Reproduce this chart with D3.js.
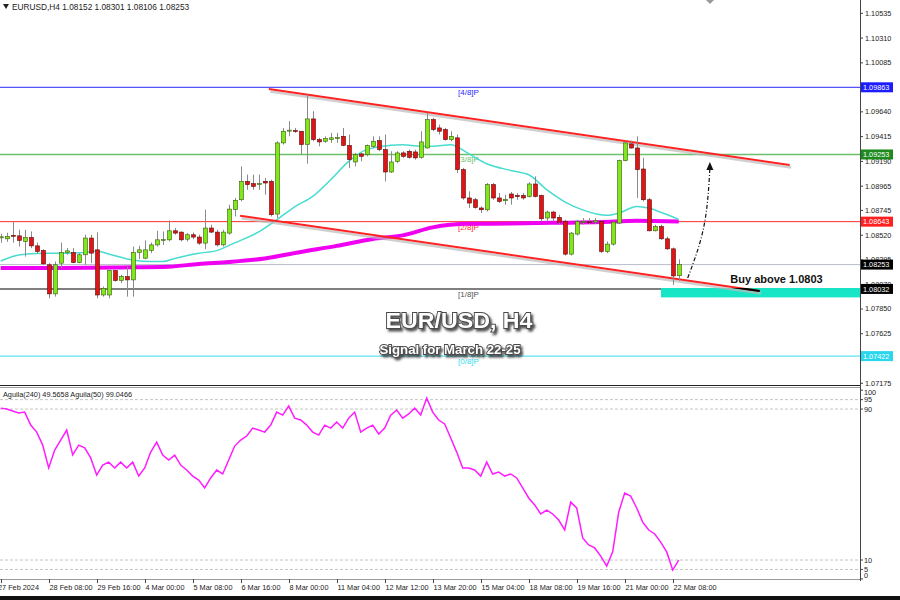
<!DOCTYPE html>
<html><head><meta charset="utf-8">
<script src="https://cdn.jsdelivr.net/npm/d3@7"></script>
<style>body{margin:0;background:#fff}svg{display:block}text{font-family:"Liberation Sans",Arial,sans-serif}</style>
</head><body><svg id="c" width="900" height="600"></svg>
<script>
// ---- DATA ----
const opens=[1.08496,1.08487,1.08519,1.08514,1.08463,1.08499,1.08423,1.08381,1.08251,1.07987,1.08266,1.08362,1.08362,1.08271,1.08342,1.08494,1.08387,1.07977,1.07977,1.08199,1.08108,1.08144,1.08114,1.08362,1.08311,1.08381,1.08432,1.08478,1.08478,1.08560,1.08548,1.08484,1.08524,1.08503,1.08448,1.08585,1.08548,1.08432,1.08539,1.08752,1.08842,1.09009,1.08988,1.08985,1.09009,1.09009,1.08712,1.09358,1.09470,1.09470,1.09464,1.09343,1.09576,1.09388,1.09373,1.09388,1.09404,1.09418,1.09336,1.09185,1.09258,1.09252,1.09327,1.09379,1.09297,1.09094,1.09191,1.09267,1.09282,1.09276,1.09227,1.09312,1.09570,1.09494,1.09479,1.09388,1.09404,1.09115,1.08858,1.08842,1.08767,1.08751,1.08979,1.08858,1.08833,1.08894,1.08881,1.08881,1.08870,1.08985,1.08881,1.08676,1.08730,1.08681,1.08645,1.08348,1.08530,1.08639,1.08642,1.08639,1.08645,1.08372,1.08439,1.08630,1.09197,1.09349,1.09312,1.09121,1.08842,1.08560,1.08599,1.08487,1.08396,1.08152];
const highs=[1.08533,1.08542,1.08645,1.08569,1.08569,1.08554,1.08453,1.08393,1.08266,1.08281,1.08453,1.08403,1.08403,1.08357,1.08524,1.08524,1.08545,1.08053,1.08205,1.08205,1.08160,1.08235,1.08417,1.08423,1.08472,1.08453,1.08560,1.08554,1.08654,1.08585,1.08554,1.08539,1.08545,1.08524,1.08752,1.08615,1.08569,1.08569,1.08797,1.08858,1.09145,1.09070,1.09070,1.09070,1.09039,1.09024,1.09373,1.09494,1.09555,1.09494,1.09464,1.09798,1.09646,1.09404,1.09418,1.09449,1.09449,1.09494,1.09434,1.09267,1.09267,1.09343,1.09418,1.09418,1.09434,1.09282,1.09282,1.09282,1.09297,1.09297,1.09464,1.09631,1.09586,1.09524,1.09494,1.09464,1.09434,1.09131,1.08918,1.08858,1.08781,1.08994,1.08994,1.08903,1.08888,1.08912,1.08903,1.08903,1.09000,1.09054,1.08888,1.08742,1.08742,1.08706,1.08660,1.08548,1.08660,1.08676,1.08676,1.08676,1.08660,1.08463,1.08645,1.09206,1.09373,1.09379,1.09418,1.09222,1.08858,1.08615,1.08615,1.08508,1.08408,1.08301];
const lows=[1.08451,1.08460,1.08451,1.08417,1.08326,1.08402,1.08351,1.08251,1.07947,1.07962,1.08220,1.08342,1.08266,1.08266,1.08251,1.08266,1.07947,1.07962,1.07947,1.08099,1.08084,1.07962,1.07962,1.08302,1.08302,1.08357,1.08417,1.08432,1.08463,1.08524,1.08463,1.08463,1.08484,1.08432,1.08393,1.08539,1.08417,1.08417,1.08524,1.08690,1.08827,1.08933,1.08933,1.08933,1.08888,1.08690,1.08676,1.09343,1.09418,1.09449,1.09252,1.09170,1.09373,1.09327,1.09358,1.09358,1.09358,1.09327,1.09131,1.09145,1.09191,1.09236,1.09312,1.09282,1.09009,1.09085,1.09176,1.09222,1.09215,1.09206,1.09215,1.09306,1.09464,1.09434,1.09379,1.09373,1.09085,1.08842,1.08767,1.08760,1.08721,1.08736,1.08842,1.08812,1.08797,1.08797,1.08842,1.08842,1.08863,1.08863,1.08645,1.08645,1.08645,1.08621,1.08335,1.08335,1.08517,1.08615,1.08621,1.08621,1.08357,1.08357,1.08426,1.08621,1.09191,1.09306,1.08858,1.08827,1.08554,1.08554,1.08478,1.08387,1.08068,1.08106];
const closes=[1.08505,1.08510,1.08514,1.08472,1.08499,1.08423,1.08372,1.08260,1.07987,1.08251,1.08362,1.08378,1.08271,1.08342,1.08494,1.08357,1.07977,1.08038,1.08199,1.08108,1.08144,1.08114,1.08362,1.08387,1.08387,1.08432,1.08478,1.08481,1.08560,1.08539,1.08478,1.08524,1.08503,1.08448,1.08585,1.08548,1.08432,1.08548,1.08757,1.08837,1.09009,1.08979,1.08963,1.08988,1.08994,1.08706,1.09358,1.09464,1.09474,1.09465,1.09343,1.09576,1.09388,1.09367,1.09397,1.09404,1.09406,1.09336,1.09206,1.09252,1.09236,1.09333,1.09373,1.09297,1.09094,1.09185,1.09267,1.09236,1.09227,1.09222,1.09367,1.09570,1.09479,1.09464,1.09388,1.09418,1.09115,1.08858,1.08812,1.08772,1.08751,1.08979,1.08858,1.08827,1.08845,1.08858,1.08870,1.08858,1.08985,1.08872,1.08669,1.08730,1.08676,1.08639,1.08348,1.08539,1.08645,1.08645,1.08639,1.08651,1.08372,1.08439,1.08639,1.09197,1.09358,1.09312,1.09115,1.08842,1.08560,1.08599,1.08487,1.08396,1.08150,1.08253];

const fastMaIdx=[0,3,6,10,14,16,18,22,25,27,29,33,36,39,43,46,49,52,55,58,61,65,67,70,72,75,78,81,85,88,91,94,97,101,103,106,108,110,113];
const fastMaVal=[1.08286,1.08341,1.08354,1.08356,1.08363,1.08377,1.08350,1.08295,1.08280,1.08280,1.08309,1.08356,1.08380,1.08450,1.08550,1.08659,1.08778,1.08872,1.09024,1.09190,1.09297,1.09336,1.09342,1.09327,1.09327,1.09342,1.09260,1.09169,1.09108,1.09069,1.08933,1.08823,1.08750,1.08700,1.08720,1.08781,1.08766,1.08728,1.08664];
const slowMaIdx=[0,10,20,28,33,38,44,50,56,62,67,72,78,85,92,100,106,113];
const slowMaVal=[1.08222,1.08222,1.08227,1.08234,1.08259,1.08277,1.08309,1.08368,1.08423,1.08486,1.08518,1.08591,1.08623,1.08626,1.08632,1.08639,1.08650,1.08644];

const aguila=[90.5,90.0,89.0,87.9,88.4,81.5,77.8,70.9,58.8,68.3,73.6,78.9,65.7,70.9,69.4,64.1,55.0,60.3,61.9,58.8,61.9,58.8,61.9,54.5,58.8,67.2,72.5,65.6,63.0,65.6,60.3,57.7,54.5,52.4,48.2,53.5,57.7,55.6,63.0,70.4,73.6,75.7,79.9,78.9,77.8,81.5,88.4,86.8,91.6,85.2,84.2,81.5,77.8,76.2,81.5,79.9,83.1,79.9,85.2,88.4,77.8,79.9,81.5,76.8,79.9,86.8,89.5,85.2,87.4,90.5,86.8,95.8,88.4,84.2,82.1,74.7,67.2,58.8,58.8,57.7,54.5,61.9,55.6,56.6,54.5,55.6,53.5,48.2,42.9,39.2,34.4,36.5,34.4,31.2,25.9,40.7,37.6,21.7,18.0,16.4,12.1,6.8,14.3,35.4,45.5,43.9,37.6,30.1,25.9,23.8,19.5,14.3,4.7,10.0];

const priceTicks=[1.10535,1.10310,1.10085,1.09640,1.09415,1.09190,1.08965,1.08745,1.08520,1.08295,1.08070,1.07850,1.07625,1.07400,1.07175];
const levelNames=["[4/8]P","[3/8]P","[2/8]P","[1/8]P","[0/8]P"];
const levelPrices=[1.09863,1.09253,1.08643,1.08032,1.07422];
const levelColors=["#2a2aff","#6cbf6c","#ff2a2a","#555555","#33dcee"];
const levelBoxColors=["#1c1cff","#1e8a1e","#ff2020","#000000","#2ad6ee"];
const currentPrice=1.08253;
const timeTickIdx=[0,8,16,24,32,40,48,56,64,72,80,88,96,104,112];
const timeTickLabels=["27 Feb 2024","28 Feb 08:00","29 Feb 16:00","4 Mar 00:00","5 Mar 08:00","6 Mar 16:00","8 Mar 00:00","11 Mar 04:00","12 Mar 12:00","13 Mar 20:00","15 Mar 04:00","18 Mar 08:00","19 Mar 16:00","21 Mar 00:00","22 Mar 08:00"];
const indTicks=[100,95,90,10,5,0];
const indDashed=[95,90,10,5];
const upperChannel=[[44.7,1.09848],[131.5,1.09157]];
const lowerChannel=[[39.9,1.08697],[126.5,1.08013]];
const arrowPath=[[114.5,1.08131],[117.2,1.08600],[118.2,1.09130]];
const buyZone={i0:110.05,top:1.08040,bottom:1.07955};
const buyText={i:121.6,price:1.08085,text:"Buy above 1.0803"};
const headerText="EURUSD,H4  1.08152 1.08301 1.08106 1.08253";
const indHeader="Aguila(240) 49.5658  Aguila(50) 99.0466";

// ---- SCALES ----
const svg=d3.select("#c");
const AX=860;
const x=d3.scaleLinear().domain([0,113]).range([0.7,678.7]);
const y=d3.scaleLinear().domain([1.07175,1.10535]).range([383.3,13.3]);
const yi=d3.scaleLinear().domain([0,100]).range([578.9,390.2]);

svg.append("defs").html(`<clipPath id="mainClip"><rect x="0" y="0" width="${AX}" height="385"/></clipPath>
<clipPath id="indClip"><rect x="0" y="388" width="${AX}" height="191"/></clipPath>
<clipPath id="zoneClip"><rect x="${x(buyZone.i0)}" y="${y(buyZone.top)}" width="${AX-x(buyZone.i0)}" height="${y(buyZone.bottom)-y(buyZone.top)}"/></clipPath>
<filter id="shadow" x="-10%" y="-30%" width="130%" height="180%"><feDropShadow dx="2" dy="2.5" stdDeviation="1" flood-color="#333" flood-opacity="0.85"/></filter>`);

const main=svg.append("g").attr("clip-path","url(#mainClip)");

// level lines
levelPrices.forEach((p,k)=>{
  main.append("line").attr("x1",0).attr("x2",AX).attr("y1",y(p)).attr("y2",y(p))
    .attr("stroke",levelColors[k]).attr("stroke-width",k==1||k==3?1.5:1);
  main.append("text").attr("x",458).attr("y",y(p)+8).attr("font-size",8)
    .attr("fill",levelColors[k]).text(levelNames[k]);
});
main.append("line").attr("x1",0).attr("x2",AX).attr("y1",y(currentPrice)).attr("y2",y(currentPrice))
  .attr("stroke","#b9bccb").attr("stroke-width",1);

// buy zone
main.append("rect").attr("x",x(buyZone.i0)).attr("y",y(buyZone.top)).attr("width",AX-x(buyZone.i0))
  .attr("height",y(buyZone.bottom)-y(buyZone.top)).attr("fill","#16e6c6");

// moving averages
const lineGen=d3.line().x(d=>x(d[0])).y(d=>y(d[1])).curve(d3.curveMonotoneX);
main.append("path").attr("d",lineGen(slowMaIdx.map((v,k)=>[v,slowMaVal[k]])))
  .attr("fill","none").attr("stroke","#f000f0").attr("stroke-width",4);
main.append("path").attr("d",lineGen(fastMaIdx.map((v,k)=>[v,fastMaVal[k]])))
  .attr("fill","none").attr("stroke","#48dcd0").attr("stroke-width",1.5);

// channel lines with shadow
const straight=d3.line().x(d=>x(d[0])).y(d=>y(d[1]));
[upperChannel,lowerChannel].forEach(ch=>{
  main.append("path").attr("d",straight(ch)).attr("transform","translate(1.5,2.5)")
    .attr("stroke","#bbb").attr("stroke-width",2.5).attr("opacity",0.7).attr("fill","none");
  main.append("path").attr("d",straight(ch)).attr("stroke","#ff2222").attr("stroke-width",2).attr("fill","none");
});
main.append("path").attr("d",straight(lowerChannel)).attr("clip-path","url(#zoneClip)")
  .attr("stroke","#000").attr("stroke-width",2).attr("fill","none");

// candles
const cg=main.append("g");
opens.forEach((o,i)=>{
  const c=closes[i],up=c>=o,cx=Math.round(x(i))+0.5;
  cg.append("line").attr("x1",cx).attr("x2",cx).attr("y1",y(highs[i])).attr("y2",y(lows[i]))
    .attr("stroke","#8a8a8a").attr("stroke-width",1);
  const top=y(Math.max(o,c)),bot=y(Math.min(o,c));
  cg.append("rect").attr("x",cx-2).attr("y",top).attr("width",4).attr("height",Math.max(1,bot-top))
    .attr("fill",up?"#80e818":"#e01414").attr("stroke",up?"#3a5a10":"#5a0a0a").attr("stroke-width",0.6);
});

// arrow
const curve=d3.line().x(d=>x(d[0])).y(d=>y(d[1])).curve(d3.curveNatural);
main.append("path").attr("d",curve(arrowPath)).attr("fill","none").attr("stroke","#111")
  .attr("stroke-width",1.2).attr("stroke-dasharray","4,2,1,2");
{
  const e=arrowPath[arrowPath.length-1],ex=x(e[0]),ey=y(e[1]);
  main.append("path").attr("d",`M${ex},${ey-6} L${ex-3.5},${ey+2} L${ex+3.5},${ey+2} Z`).attr("fill","#111");
}

// buy text
main.append("text").attr("x",x(buyText.i)).attr("y",y(buyText.price)).attr("font-size",11)
  .attr("font-weight","bold").attr("fill","#111").text(buyText.text);

// titles (single text, shadow via filter)
function fancy(txt,cx,cy,size,len){
  main.append("text").attr("x",cx).attr("y",cy).attr("text-anchor","middle").attr("font-size",size)
    .attr("font-weight","bold").attr("fill","#fff").attr("stroke","#4a4a4a").attr("stroke-width",1.8)
    .attr("paint-order","stroke").attr("textLength",len).attr("lengthAdjust","spacingAndGlyphs")
    .attr("filter","url(#shadow)").text(txt);
}
fancy("EUR/USD, H4",459,328,22,147);
fancy("Signal for March 22-25",450,354,13,141);

// header
svg.append("path").attr("d","M3,4 L9,4 L6,9 Z").attr("fill","#222");
svg.append("text").attr("x",12).attr("y",9.5).attr("font-size",8.3).attr("fill","#222").text(headerText);
svg.append("path").attr("d","M706,0 L714,0 L710,4 Z").attr("fill","#999");

// right axis
svg.append("line").attr("x1",AX+0.5).attr("x2",AX+0.5).attr("y1",0).attr("y2",581).attr("stroke","#444");
priceTicks.forEach(p=>{
  svg.append("line").attr("x1",AX).attr("x2",AX+3).attr("y1",y(p)).attr("y2",y(p)).attr("stroke","#444");
  svg.append("text").attr("x",AX+5).attr("y",y(p)+2.5).attr("font-size",7.3).attr("fill","#222").text(p.toFixed(5));
});
function box(p,bg){
  svg.append("rect").attr("x",AX+1).attr("y",y(p)-5).attr("width",32).attr("height",10).attr("fill",bg);
  svg.append("text").attr("x",AX+3).attr("y",y(p)+2.7).attr("font-size",7.3).attr("fill","#fff").text(p.toFixed(5));
}
levelPrices.forEach((p,k)=>box(p,levelBoxColors[k]));
box(currentPrice,"#000");

// panel separator
svg.append("line").attr("x1",0).attr("x2",AX).attr("y1",385.5).attr("y2",385.5).attr("stroke","#222").attr("stroke-width",1.2);
svg.append("line").attr("x1",0).attr("x2",AX).attr("y1",387.5).attr("y2",387.5).attr("stroke","#888").attr("stroke-width",0.8);

// indicator panel
const ind=svg.append("g").attr("clip-path","url(#indClip)");
indDashed.forEach(v=>{
  ind.append("line").attr("x1",0).attr("x2",AX).attr("y1",yi(v)).attr("y2",yi(v))
    .attr("stroke","#c4c4c4").attr("stroke-dasharray","3,2");
});
ind.append("path").attr("d",d3.line().x((d,i)=>x(i)).y(d=>yi(d))(aguila))
  .attr("fill","none").attr("stroke","#ff1cff").attr("stroke-width",1.5);
svg.append("text").attr("x",3).attr("y",397).attr("font-size",7.3).attr("fill","#222").text(indHeader);
indTicks.forEach(v=>{
  const ty=Math.min(Math.max(yi(v),392),575);
  svg.append("line").attr("x1",AX).attr("x2",AX+3).attr("y1",yi(v)).attr("y2",yi(v)).attr("stroke","#444");
  svg.append("text").attr("x",AX+4).attr("y",ty+2.5).attr("font-size",7.3).attr("fill","#222").text(v);
});

// time axis
svg.append("line").attr("x1",0).attr("x2",AX).attr("y1",579.5).attr("y2",579.5).attr("stroke","#999");
timeTickIdx.forEach((t,k)=>{
  const tx=Math.round(x(t))+0.5;
  svg.append("line").attr("x1",tx).attr("x2",tx).attr("y1",579).attr("y2",583).attr("stroke","#444");
  svg.append("text").attr("x",k==0?tx-3.5:tx).attr("y",590).attr("font-size",7.3).attr("fill","#222").text(timeTickLabels[k]);
});
svg.append("rect").attr("x",0).attr("y",596).attr("width",900).attr("height",4).attr("fill","#111");
</script></body></html>
